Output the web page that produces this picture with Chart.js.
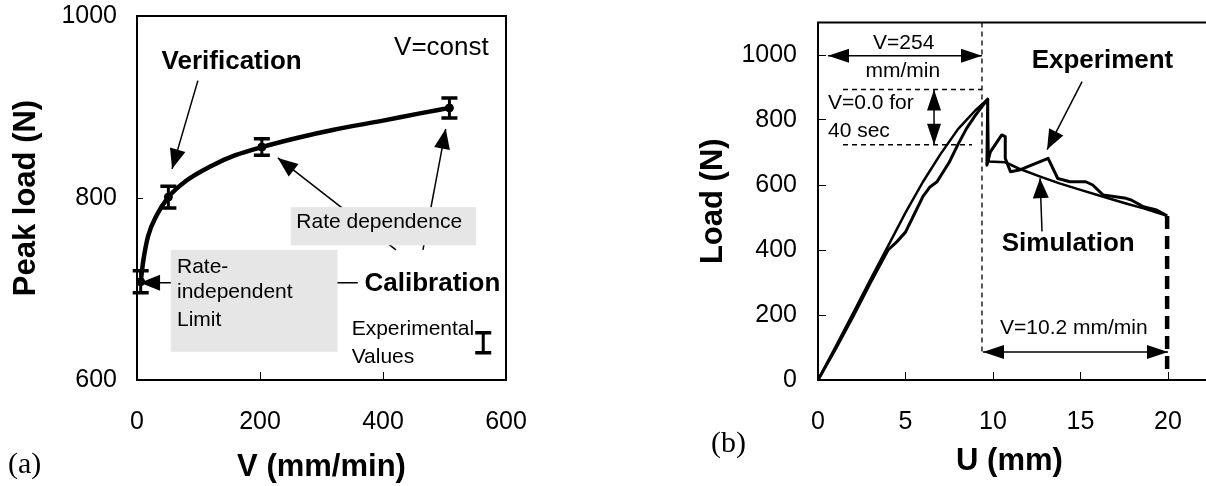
<!DOCTYPE html>
<html>
<head>
<meta charset="utf-8">
<script src="https://cdn.jsdelivr.net/npm/chart.js@4.4.1/dist/chart.umd.min.js"></script>
<style>
  html, body { margin: 0; padding: 0; background: #fff; overflow: hidden; }
  body { width: 1206px; height: 486px; position: relative; }
  canvas { position: absolute; top: 0; }
  #chartA { left: 0; }
  #chartB { left: 680px; }
  .tag { position: absolute; font-family: 'Liberation Serif', 'Times New Roman', serif; font-size: 30px; line-height: 1; }
</style>
</head>
<body>
<canvas id="chartA" width="560" height="486"></canvas>
<canvas id="chartB" width="600" height="486"></canvas>
<div class="tag" style="left:8px; top:448px">(a)</div>
<div class="tag" style="left:711px; top:427px">(b)</div>
<script>
// (a) peak load vs. loading rate
const rateV = [6, 51, 203, 508];
const peakLoad = [708, 801, 856, 899];
const peakErr = [12, 12, 9, 11];
const fitV = [6, 10, 18, 32, 51, 80, 120, 160, 203, 260, 320, 400, 460, 508];
const fitLoad = [708, 730, 758, 781, 801, 819, 835, 847, 856, 866, 875, 885, 893, 899];
const ticksV = [0, 200, 400, 600];
const ticksPeak = [600, 800, 1000];

// (b) load vs. displacement
const expU = [0, 1, 2, 3, 4, 4.5, 5, 5.5, 6, 6.4, 6.8, 7.5, 8, 8.5, 9, 9.7,
              9.65, 9.85, 10.5, 10.7, 10.7, 11.0, 11.5, 12.2, 13.15, 13.7, 14.4, 15.3,
              15.7, 16.3, 17.6, 17.9, 18.6, 19.35, 19.95];
const expLoad = [0, 95, 195, 300, 400, 425, 455, 510, 565, 594, 610, 670, 725, 775, 815, 864,
                 661, 702, 754, 749, 682, 641, 646, 661, 682, 620, 610, 610,
                 600, 569, 559, 554, 533, 523, 505];
const simU = [0, 1, 2, 3, 4, 5, 6, 7, 8, 9, 9.7, 9.75, 10.7, 11.5, 12.7, 13.8, 15, 16.3, 17.6, 18.6, 19.5, 19.95];
const simLoad = [0, 102, 205, 310, 412, 515, 610, 695, 772, 830, 864, 672, 670, 650, 626, 605, 585, 564, 543, 528, 513, 505];
const failU = [19.95, 19.95];
const failLoad = [505, 30];
const ticksU = [0, 5, 10, 15, 20, 25];
const ticksLoad = [0, 200, 400, 600, 800, 1000];

const FONT = "'Liberation Sans', Arial, Helvetica, sans-serif";
Chart.defaults.font.family = FONT;
Chart.defaults.font.size = 25;
Chart.defaults.color = '#000';
Chart.defaults.animation = false;

const pts = (xs, ys) => xs.map((x, i) => ({ x: x, y: ys[i] }));

function toPx(chart, p) {
    return [chart.scales.x.getPixelForValue(p[0]), chart.scales.y.getPixelForValue(p[1])];
}

function drawHead(ctx, from, to, len, half) {
    const a = Math.atan2(to[1] - from[1], to[0] - from[0]);
    const bx = to[0] - len * Math.cos(a), by = to[1] - len * Math.sin(a);
    ctx.beginPath();
    ctx.moveTo(to[0], to[1]);
    ctx.lineTo(bx + half * Math.sin(a), by - half * Math.cos(a));
    ctx.lineTo(bx - half * Math.sin(a), by + half * Math.cos(a));
    ctx.closePath();
    ctx.fill();
}

function drawErrBar(ctx, x, yTop, yBot) {
    ctx.lineWidth = 3;
    ctx.beginPath();
    ctx.moveTo(x, yTop); ctx.lineTo(x, yBot);
    ctx.stroke();
    ctx.lineWidth = 3.5;
    ctx.beginPath();
    ctx.moveTo(x - 8, yTop); ctx.lineTo(x + 8, yTop);
    ctx.moveTo(x - 8, yBot); ctx.lineTo(x + 8, yBot);
    ctx.stroke();
}

function drawItem(chart, it) {
    const ctx = chart.ctx;
    ctx.save();
    ctx.strokeStyle = '#000';
    ctx.fillStyle = '#000';
    if (it.kind === 'box') {
        const a = toPx(chart, it.from), b = toPx(chart, it.to);
        ctx.fillStyle = it.fill;
        ctx.fillRect(Math.min(a[0], b[0]), Math.min(a[1], b[1]), Math.abs(b[0] - a[0]), Math.abs(b[1] - a[1]));
    } else if (it.kind === 'line' || it.kind === 'arrow') {
        const a = toPx(chart, it.from), b = toPx(chart, it.to);
        ctx.lineWidth = it.width || 1.5;
        ctx.setLineDash(it.dash || []);
        ctx.beginPath();
        ctx.moveTo(a[0], a[1]);
        ctx.lineTo(b[0], b[1]);
        ctx.stroke();
        ctx.setLineDash([]);
        if (it.kind === 'arrow') {
            drawHead(ctx, a, b, it.head[0], it.head[1]);
            if (it.both) drawHead(ctx, b, a, it.head[0], it.head[1]);
        }
    } else if (it.kind === 'text') {
        const p = toPx(chart, it.at);
        ctx.font = (it.bold ? 'bold ' : '') + it.size + 'px ' + FONT;
        ctx.textAlign = it.align || 'left';
        ctx.textBaseline = 'middle';
        ctx.fillText(it.text, p[0], p[1]);
    } else if (it.kind === 'errbar') {
        const x = chart.scales.x.getPixelForValue(it.at[0]);
        drawErrBar(ctx, x, chart.scales.y.getPixelForValue(it.at[1] + it.err),
                   chart.scales.y.getPixelForValue(it.at[1] - it.err));
    }
    ctx.restore();
}

// annotations, frame and error bars drawn through the chart's own scales
function sketch(under, over) {
    return {
        id: 'sketch',
        beforeDatasetsDraw(chart) {
            under.forEach(it => drawItem(chart, it));
        },
        afterDatasetsDraw(chart) {
            const ctx = chart.ctx, area = chart.chartArea;
            ctx.save();
            ctx.strokeStyle = '#000';
            ctx.lineWidth = 2;
            ctx.strokeRect(area.left, area.top, area.right - area.left, area.bottom - area.top);
            chart.data.datasets.forEach(ds => {
                if (!ds.errors) return;
                ds.data.forEach((p, j) => {
                    drawErrBar(ctx, chart.scales.x.getPixelForValue(p.x),
                               chart.scales.y.getPixelForValue(p.y + ds.errors[j]),
                               chart.scales.y.getPixelForValue(p.y - ds.errors[j]));
                });
            });
            ctx.restore();
            over.forEach(it => drawItem(chart, it));
        }
    };
}

function axis(min, max, ticks, fitSize, tickLen, pad, title) {
    const horizontal = fitSize.h !== undefined;
    return {
        type: 'linear',
        position: horizontal ? 'bottom' : 'left',
        min: min,
        max: max,
        afterBuildTicks: s => { s.ticks = ticks.map(v => ({ value: v })); },
        afterFit: s => {
            if (horizontal) s.height = fitSize.h; else s.width = fitSize.w;
            // keep the plot area where the layout padding puts it
            s.paddingTop = s.paddingBottom = s.paddingLeft = s.paddingRight = 0;
        },
        grid: { drawOnChartArea: false, drawTicks: true, tickLength: -tickLen, color: '#000', lineWidth: 1 },
        border: { display: false },
        ticks: { padding: pad, color: '#000', font: { size: 25 }, callback: v => String(v) },
        title: title
    };
}

const HEAD = [20, 8];

new Chart(document.getElementById('chartA'), {
    type: 'scatter',
    data: {
        datasets: [
            {
                data: pts(fitV, fitLoad),
                showLine: true,
                borderColor: '#000',
                borderWidth: 4.5,
                pointRadius: 0,
                cubicInterpolationMode: 'monotone'
            },
            {
                data: pts(rateV, peakLoad),
                errors: peakErr,
                showLine: false,
                pointRadius: 4,
                pointBackgroundColor: '#000',
                pointBorderColor: '#000'
            }
        ]
    },
    options: {
        responsive: false,
        layout: { padding: { top: 16, right: 54, left: 0, bottom: 0 } },
        plugins: { legend: { display: false }, tooltip: { enabled: false } },
        scales: {
            x: axis(0, 600, ticksV, { h: 106 }, 8, 35,
                { display: true, text: 'V (mm/min)', font: { size: 31, weight: 'bold' }, padding: { top: 0, bottom: 0 } }),
            y: axis(600, 1000, ticksPeak, { w: 137 }, 6, 26,
                { display: true, text: 'Peak load (N)', font: { size: 31, weight: 'bold' }, padding: { top: 8, bottom: 0 } })
        }
    },
    plugins: [sketch(
        [
            { kind: 'arrow', from: [99, 929], to: [57, 832], head: HEAD },
            { kind: 'arrow', from: [421, 743], to: [229, 844], head: HEAD },
            { kind: 'arrow', from: [465, 743], to: [502, 876], head: HEAD },
            { kind: 'arrow', from: [359, 707], to: [5, 707], head: HEAD },
            { kind: 'box', from: [250, 790], to: [551, 748], fill: '#e6e6e6' },
            { kind: 'box', from: [55, 743], to: [326, 631], fill: '#e6e6e6' }
        ],
        [
            { kind: 'text', text: 'Verification', at: [40, 950], size: 26, bold: true },
            { kind: 'text', text: 'V=const', at: [418, 965], size: 26 },
            { kind: 'text', text: 'Rate dependence', at: [259, 773], size: 21 },
            { kind: 'text', text: 'Rate-', at: [65, 724], size: 21 },
            { kind: 'text', text: 'independent', at: [65, 696], size: 21 },
            { kind: 'text', text: 'Limit', at: [65, 666], size: 21 },
            { kind: 'text', text: 'Calibration', at: [370, 706], size: 26, bold: true },
            { kind: 'text', text: 'Experimental', at: [349, 656], size: 21 },
            { kind: 'text', text: 'Values', at: [349, 625], size: 21 },
            { kind: 'errbar', at: [563, 641], err: 11 }
        ]
    )]
});

new Chart(document.getElementById('chartB'), {
    type: 'scatter',
    data: {
        datasets: [
            {
                label: 'Experiment',
                data: pts(expU, expLoad),
                showLine: true,
                borderColor: '#000',
                borderWidth: 3,
                borderJoinStyle: 'round',
                pointRadius: 0
            },
            {
                label: 'Simulation',
                data: pts(simU, simLoad),
                showLine: true,
                borderColor: '#000',
                borderWidth: 2.5,
                borderJoinStyle: 'round',
                pointRadius: 0
            },
            {
                label: 'Failure',
                data: pts(failU, failLoad),
                showLine: true,
                borderColor: '#000',
                borderWidth: 4.5,
                borderDash: [13, 7],
                pointRadius: 0
            }
        ]
    },
    options: {
        responsive: false,
        layout: { padding: { top: 22.5, right: 24.5, left: 0, bottom: 0 } },
        plugins: { legend: { display: false }, tooltip: { enabled: false } },
        scales: {
            x: axis(0, 25, ticksU, { h: 106 }, 8, 35, { display: false }),
            y: axis(0, 1100, ticksLoad, { w: 138 }, 8, 29,
                { display: true, text: 'Load (N)', font: { size: 31, weight: 'bold' }, padding: { top: 15, bottom: 0 } })
        }
    },
    plugins: [sketch(
        [
            { kind: 'line', from: [9.37, 1100], to: [9.37, 82], dash: [5, 4], width: 1.3 },
            { kind: 'line', from: [1.43, 894], to: [9.37, 894], dash: [5, 4], width: 1.5 },
            { kind: 'line', from: [1.43, 724], to: [8.8, 724], dash: [5, 4], width: 1.5 },
            { kind: 'arrow', from: [0.57, 998], to: [9.37, 998], both: true, head: [21, 7] },
            { kind: 'arrow', from: [6.63, 894], to: [6.63, 724], both: true, head: [21, 7] },
            { kind: 'arrow', from: [9.43, 86], to: [20.0, 86], both: true, head: [21, 7] },
            { kind: 'arrow', from: [15.09, 918], to: [13.09, 709], head: HEAD },
            { kind: 'arrow', from: [12.8, 457], to: [12.69, 621], head: HEAD }
        ],
        [
            { kind: 'text', text: 'V=254', at: [4.9, 1037], size: 21, align: 'center' },
            { kind: 'text', text: 'mm/min', at: [4.85, 951], size: 21, align: 'center' },
            { kind: 'text', text: 'V=0.0 for', at: [0.57, 852], size: 21 },
            { kind: 'text', text: '40 sec', at: [0.57, 766], size: 21 },
            { kind: 'text', text: 'Experiment', at: [12.21, 983], size: 26, bold: true },
            { kind: 'text', text: 'Simulation', at: [10.5, 419], size: 26, bold: true },
            { kind: 'text', text: 'V=10.2 mm/min', at: [10.4, 159], size: 21 },
            { kind: 'text', text: 'U (mm)', at: [10.94, -250], size: 31, bold: true, align: 'center' }
        ]
    )]
});
</script>
</body>
</html>
